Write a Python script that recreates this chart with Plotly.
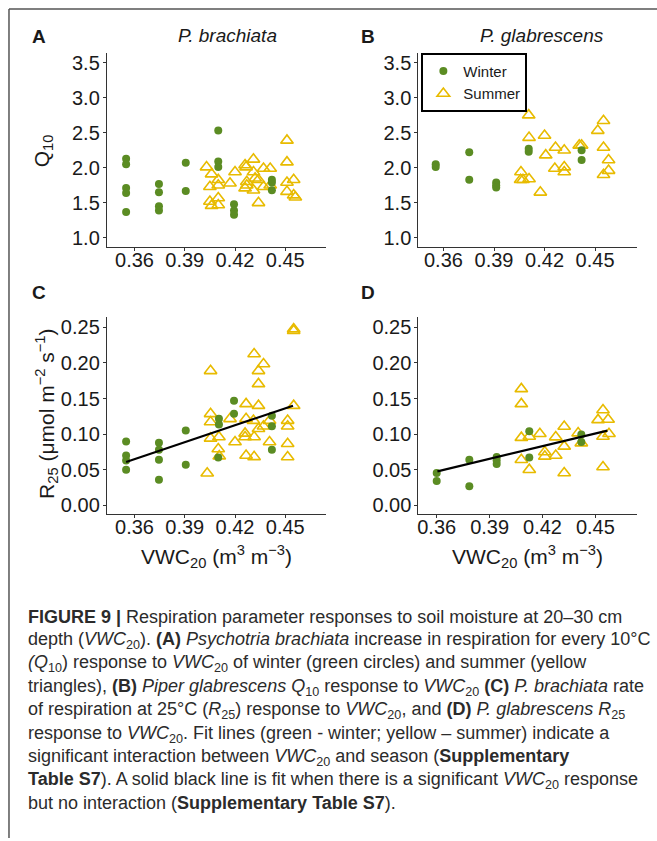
import plotly.graph_objects as go

# ---------------- data ----------------
# Panel A: P. brachiata Q10
a_win_x = [0.355, 0.355, 0.355, 0.355, 0.355, 0.3746, 0.3746, 0.3746, 0.3746, 0.3906, 0.3906,
           0.410, 0.410, 0.410, 0.4194, 0.4194, 0.4194, 0.442, 0.442, 0.442]
a_win_y = [2.13, 2.05, 1.71, 1.64, 1.37, 1.77, 1.65, 1.45, 1.39, 2.07, 1.67,
           2.53, 2.09, 2.01, 1.48, 1.39, 1.33, 1.83, 1.79, 1.68]
a_sum_x = [0.403, 0.406, 0.405, 0.405, 0.406, 0.410, 0.410, 0.410, 0.410, 0.417, 0.420,
           0.426, 0.4266, 0.427, 0.427, 0.426, 0.431, 0.431, 0.432, 0.434, 0.431, 0.434,
           0.437, 0.437, 0.441, 0.441, 0.451, 0.451, 0.451, 0.451, 0.455, 0.455, 0.456]
a_sum_y = [2.01, 1.91, 1.73, 1.52, 1.46, 1.83, 1.75, 1.57, 1.47, 1.78, 1.94,
           2.04, 2.01, 1.80, 1.75, 1.71, 2.12, 1.94, 1.85, 1.83, 1.68, 1.50,
           1.73, 1.99, 1.99, 1.75, 2.39, 2.08, 1.79, 1.66, 1.83, 1.61, 1.58]

# Panel B: P. glabrescens Q10
b_win_x = [0.3554, 0.3554, 0.3753, 0.3753, 0.3913, 0.3913, 0.3913, 0.4106, 0.4106, 0.442, 0.442]
b_win_y = [2.05, 2.01, 2.22, 1.83, 1.79, 1.75, 1.72, 2.27, 2.23, 2.25, 2.11]
b_sum_x = [0.4106, 0.4108, 0.406, 0.4058, 0.4072, 0.4108, 0.4175, 0.420, 0.4207, 0.4265, 0.4261,
           0.4317, 0.4317, 0.4317, 0.4406, 0.442, 0.4516, 0.455, 0.455, 0.455, 0.458, 0.458]
b_sum_y = [2.75, 2.43, 1.94, 1.83, 1.83, 1.84, 1.65, 2.46, 2.18, 2.29, 1.99,
           2.25, 2.01, 1.94, 2.32, 2.32, 2.53, 2.67, 2.29, 1.90, 2.11, 1.96]

# Panel C: P. brachiata R25
c_win_x = [0.355, 0.355, 0.355, 0.355, 0.3746, 0.3746, 0.3746, 0.3746, 0.3906, 0.3906,
           0.4104, 0.4104, 0.410, 0.4194, 0.4194, 0.442, 0.442, 0.442]
c_win_y = [0.0897, 0.070, 0.063, 0.050, 0.088, 0.078, 0.064, 0.036, 0.105, 0.057,
           0.1215, 0.1136, 0.067, 0.147, 0.1285, 0.126, 0.111, 0.078]
c_sum_x = [0.4034, 0.4054, 0.4054, 0.4054, 0.4054, 0.4104, 0.410, 0.4106, 0.417, 0.420,
           0.4266, 0.4266, 0.426, 0.426, 0.4266, 0.4314, 0.4314, 0.431, 0.4314, 0.434,
           0.434, 0.434, 0.434, 0.437, 0.437, 0.4406, 0.4406, 0.4514, 0.4514, 0.4514,
           0.4514, 0.455, 0.455, 0.455]
c_sum_y = [0.045, 0.189, 0.1285, 0.117, 0.094, 0.096, 0.079, 0.069, 0.1215, 0.089,
           0.1425, 0.1215, 0.101, 0.096, 0.070, 0.2126, 0.068, 0.119, 0.096, 0.189,
           0.1706, 0.140, 0.1075, 0.1986, 0.111, 0.089, 0.119, 0.119, 0.111, 0.0864,
           0.0678, 0.2477, 0.2453, 0.140]
c_fit_x = [0.355, 0.4546]
c_fit_y = [0.0607, 0.140]

# Panel D: P. glabrescens R25
d_win_x = [0.360, 0.360, 0.3785, 0.3785, 0.394, 0.394, 0.394, 0.4125, 0.4125, 0.442, 0.442]
d_win_y = [0.0453, 0.034, 0.064, 0.0266, 0.0678, 0.063, 0.058, 0.104, 0.067, 0.0995, 0.089]
d_sum_x = [0.408, 0.408, 0.408, 0.408, 0.4125, 0.4125, 0.4185, 0.4213, 0.4213, 0.4275,
           0.4275, 0.4323, 0.4323, 0.4323, 0.4402, 0.442, 0.4515, 0.4543, 0.4543, 0.4543,
           0.4572, 0.4577]
d_sum_y = [0.1636, 0.1425, 0.095, 0.064, 0.0967, 0.050, 0.1005, 0.0748, 0.0687, 0.0958,
           0.070, 0.1107, 0.0827, 0.0453, 0.1014, 0.0874, 0.120, 0.134, 0.0967, 0.0537,
           0.1206, 0.1005]
d_fit_x = [0.3604, 0.4568]
d_fit_y = [0.0477, 0.105]

x_ticks = [0.36, 0.39, 0.42, 0.45]
q10_ticks = [1.0, 1.5, 2.0, 2.5, 3.0, 3.5]
r25_ticks = [0.00, 0.05, 0.10, 0.15, 0.20, 0.25]

panel_letters = ["A", "B", "C", "D"]
species = ["P. brachiata", "P. glabrescens"]
season_names = ["Winter", "Summer"]

caption_lines = [
    "<b>FIGURE 9 |</b> Respiration parameter responses to soil moisture at 20–30 cm",
    "depth (<i>VWC</i><sub>20</sub>). <b>(A)</b> <i>Psychotria brachiata</i> increase in respiration for every 10°C",
    "<i>(Q</i><sub>10</sub>) response to <i>VWC</i><sub>20</sub> of winter (green circles) and summer (yellow",
    "triangles), <b>(B)</b> <i>Piper glabrescens Q</i><sub>10</sub> response to <i>VWC</i><sub>20</sub> <b>(C)</b> <i>P. brachiata</i> rate",
    "of respiration at 25°C (<i>R</i><sub>25</sub>) response to <i>VWC</i><sub>20</sub>, and <b>(D)</b> <i>P. glabrescens R</i><sub>25</sub>",
    "response to <i>VWC</i><sub>20</sub>. Fit lines (green - winter; yellow – summer) indicate a",
    "significant interaction between <i>VWC</i><sub>20</sub> and season (<b>Supplementary</b>",
    "<b>Table S7</b>). A solid black line is fit when there is a significant <i>VWC</i><sub>20</sub> response",
    "but no interaction (<b>Supplementary Table S7</b>).",
]

# ---------------- styling ----------------
W, H = 657, 841
GREEN = "#5b8c23"
YELLOW = "#e8bb00"
AX = "#333333"
FONT = "Liberation Sans, Arial, sans-serif"

def px_x(p):
    return p / W

def px_y(p):
    return 1 - p / H

fig = go.Figure()

panels = [
    ("x", "y", a_win_x, a_win_y, a_sum_x, a_sum_y, None, None),
    ("x2", "y2", b_win_x, b_win_y, b_sum_x, b_sum_y, None, None),
    ("x3", "y3", c_win_x, c_win_y, c_sum_x, c_sum_y, c_fit_x, c_fit_y),
    ("x4", "y4", d_win_x, d_win_y, d_sum_x, d_sum_y, d_fit_x, d_fit_y),
]

for i, (xa, ya, wx, wy, sx, sy, fx, fy) in enumerate(panels):
    fig.add_trace(go.Scatter(
        x=sx, y=sy, mode="markers", xaxis=xa, yaxis=ya,
        name=season_names[1], legendgroup="summer", showlegend=(i == 0), legendrank=2,
        marker=dict(symbol="triangle-up-open", size=11, color=YELLOW, line=dict(width=1.6, color=YELLOW)),
        hoverinfo="skip"))
    fig.add_trace(go.Scatter(
        x=wx, y=wy, mode="markers", xaxis=xa, yaxis=ya,
        name=season_names[0], legendgroup="winter", showlegend=(i == 0), legendrank=1,
        marker=dict(symbol="circle", size=8, color=GREEN),
        hoverinfo="skip"))
    if fx is not None:
        fig.add_trace(go.Scatter(
            x=fx, y=fy, mode="lines", xaxis=xa, yaxis=ya, showlegend=False,
            line=dict(color="black", width=2.2), hoverinfo="skip"))

# axis geometry (pixels)
xdom_left = [px_x(106), px_x(325)]
xdom_right = [px_x(418), px_x(637)]
ydom_top = [px_y(247), px_y(52)]
ydom_bot = [px_y(515), px_y(318)]

common = dict(showline=True, linecolor=AX, linewidth=1.1, ticks="outside", ticklen=3,
              tickwidth=1.1, tickcolor=AX, showgrid=False, zeroline=False,
              tickfont=dict(family=FONT, size=20, color="#1a1a1a"), fixedrange=True)
xcommon = dict(ticklabelstandoff=-8, **common)
ycommon = dict(ticklabelstandoff=-1, **common)

fig.update_layout(
    xaxis=dict(domain=xdom_left, range=[0.3435, 0.474], anchor="y", tickvals=x_ticks,
               ticktext=[f"{v:.2f}" for v in x_ticks], **xcommon),
    yaxis=dict(domain=ydom_top, range=[0.873, 3.64], anchor="x", tickvals=q10_ticks,
               ticktext=[f"{v:.1f}" for v in q10_ticks], **ycommon),
    xaxis2=dict(domain=xdom_right, range=[0.3451, 0.4749], anchor="y2", tickvals=x_ticks,
                ticktext=[f"{v:.2f}" for v in x_ticks], **xcommon),
    yaxis2=dict(domain=ydom_top, range=[0.873, 3.64], anchor="x2", tickvals=q10_ticks,
                ticktext=[f"{v:.1f}" for v in q10_ticks], **ycommon),
    xaxis3=dict(domain=xdom_left, range=[0.3435, 0.474], anchor="y3", tickvals=x_ticks,
                ticktext=[f"{v:.2f}" for v in x_ticks], **xcommon),
    yaxis3=dict(domain=ydom_bot, range=[-0.0117, 0.264], anchor="x3", tickvals=r25_ticks,
                ticktext=[f"{v:.2f}" for v in r25_ticks], **ycommon),
    xaxis4=dict(domain=xdom_right, range=[0.3496, 0.4736], anchor="y4", tickvals=x_ticks,
                ticktext=[f"{v:.2f}" for v in x_ticks], **xcommon),
    yaxis4=dict(domain=ydom_bot, range=[-0.0117, 0.264], anchor="x4", tickvals=r25_ticks,
                ticktext=[f"{v:.2f}" for v in r25_ticks], **ycommon),
)

annotations = []

def ann(text, x, y, size, xanchor="center", yanchor="middle", angle=0, color="#1a1a1a"):
    annotations.append(dict(text=text, x=px_x(x), y=px_y(y), xref="paper", yref="paper",
                            xanchor=xanchor, yanchor=yanchor, showarrow=False, textangle=angle,
                            font=dict(family=FONT, size=size, color=color)))

# panel letters and species titles
ann(f"<b>{panel_letters[0]}</b>", 38, 36, 19)
ann(f"<b>{panel_letters[1]}</b>", 368, 36, 19)
ann(f"<b>{panel_letters[2]}</b>", 38, 293, 19)
ann(f"<b>{panel_letters[3]}</b>", 368, 293, 19)
ann(f"<i>{species[0]}</i>", 227, 35, 19)
ann(f"<i>{species[1]}</i>", 542, 35, 19)

# axis titles
ann("Q<sub>10</sub>", 42, 150, 21, angle=-90)
ann("R<sub>25</sub> (μmol m<sup>−2</sup> s<sup>−1</sup>)", 45, 415, 21, angle=-90)
ann("VWC<sub>20</sub> (m<sup>3</sup> m<sup>−3</sup>)", 216, 558, 21)
ann("VWC<sub>20</sub> (m<sup>3</sup> m<sup>−3</sup>)", 527, 558, 21)

# caption
cap_y = [619, 643, 666, 690, 713, 737, 760, 783, 806]
for line, yy in zip(caption_lines, cap_y):
    ann(line, 25, yy, 18, xanchor="left", color="#2b2b2b")

fig.update_layout(
    annotations=annotations,
    width=W, height=H,
    margin=dict(l=0, r=0, t=0, b=0),
    paper_bgcolor="white", plot_bgcolor="white",
    font=dict(family=FONT),
    showlegend=True,
    legend=dict(x=px_x(421), y=px_y(52), xanchor="left", yanchor="top",
                bordercolor="black", borderwidth=2, bgcolor="white",
                font=dict(family=FONT, size=15, color="#1a1a1a"),
                itemwidth=30, tracegroupgap=0),
    shapes=[
        dict(type="line", xref="paper", yref="paper", x0=px_x(8), x1=px_x(8), y0=0, y1=px_y(8),
             line=dict(color="#555555", width=1.5)),
        dict(type="line", xref="paper", yref="paper", x0=px_x(8), x1=1, y0=px_y(8), y1=px_y(8),
             line=dict(color="#555555", width=1.5)),
    ],
)

fig.write_html("out.html")
